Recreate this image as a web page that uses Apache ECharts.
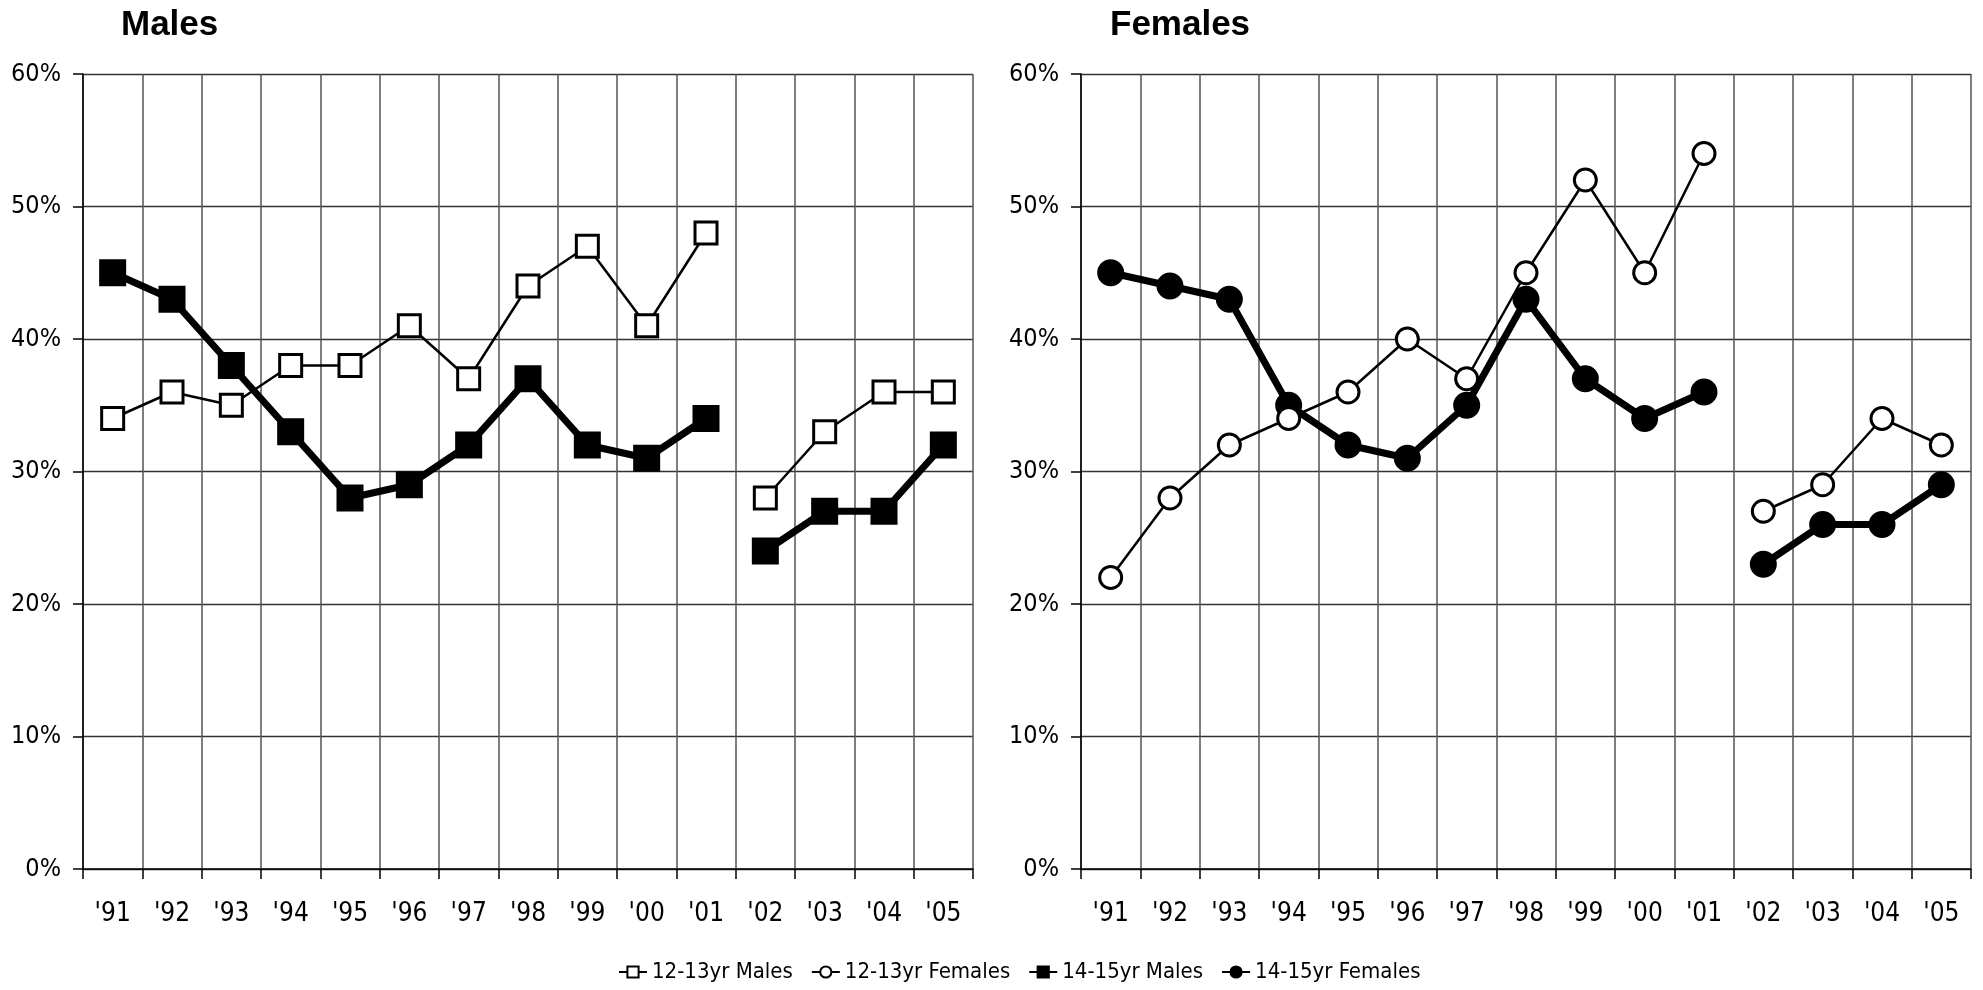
<!DOCTYPE html>
<html><head><meta charset="utf-8">
<script src="https://cdn.jsdelivr.net/npm/echarts@6/dist/echarts.min.js"></script>
<style>html,body{margin:0;padding:0;background:#fff}#c{width:1983px;height:990px}</style>
</head><body><div id="c"></div>
<script>
const years = ["'91","'92","'93","'94","'95","'96","'97","'98","'99","'00","'01","'02","'03","'04","'05"];
const males1213   = [34,36,35,38,38,41,37,44,47,41,48,28,33,36,36];
const males1415   = [45,43,38,33,28,29,32,37,32,31,34,24,27,27,32];
const females1213 = [22,28,32,34,36,40,37,45,52,45,54,27,29,34,32];
const females1415 = [45,44,43,35,32,31,35,43,37,34,36,23,26,26,29];
const breakIndex = 11; // survey break between '01 and '02
const yMin = 0, yMax = 60, yStep = 10;

const FONT = "'DejaVu Sans Condensed', 'Liberation Sans Narrow', sans-serif";

function seg(arr, a, b) { return arr.map((v, i) => (i >= a && i < b) ? v : '-'); }

function xAxis(gi) {
  return {
    type: 'category', gridIndex: gi, data: years, boundaryGap: true,
    axisLine: { show: true, lineStyle: { color: '#000', width: 1.5 } },
    axisTick: { show: true, length: 10, lineStyle: { color: '#000', width: 1.5 } },
    axisLabel: { color: '#000', fontSize: 26, fontFamily: FONT, margin: 32 },
    splitLine: { show: true, lineStyle: { color: '#555', width: 1.5 } }
  };
}
function yAxis(gi) {
  return {
    type: 'value', gridIndex: gi, min: yMin, max: yMax, interval: yStep,
    axisLine: { show: true, lineStyle: { color: '#000', width: 1.5 } },
    axisTick: { show: true, length: 10, lineStyle: { color: '#000', width: 1.5 } },
    axisLabel: { color: '#000', fontSize: 25, fontFamily: FONT, margin: 22, formatter: '{value}%' },
    splitLine: { show: true, lineStyle: { color: '#333', width: 1.3 } }
  };
}

function lineSeries(name, arr, gi, symbol, filled, thick) {
  const out = [];
  [[0, breakIndex], [breakIndex, arr.length]].forEach(([a, b]) => {
    out.push({
      name, type: 'line', xAxisIndex: gi, yAxisIndex: gi,
      data: seg(arr, a, b), connectNulls: false,
      symbol, symbolSize: thick ? 24 : 22,
      lineStyle: { color: '#000', width: thick ? 7 : 2.5 },
      itemStyle: { color: filled ? '#000' : '#fff', borderColor: '#000', borderWidth: 3 },
      emphasis: { disabled: true }, animation: false, z: thick ? 3 : 4
    });
  });
  return out;
}

const chart = echarts.init(document.getElementById('c'), null, { renderer: 'canvas' });
chart.setOption({
  backgroundColor: '#fff',
  animation: false,
  title: [
    { text: 'Males', left: 116, top: 3, textStyle: { fontSize: 35, fontWeight: 'bold', fontFamily: "'Liberation Sans', Arial, sans-serif", color: '#000' } },
    { text: 'Females', left: 1105, top: 3, textStyle: { fontSize: 35, fontWeight: 'bold', fontFamily: "'Liberation Sans', Arial, sans-serif", color: '#000' } }
  ],
  grid: [
    { left: 83, right: 1010, top: 74, bottom: 121, containLabel: false },
    { left: 1081, right: 12, top: 74, bottom: 121, containLabel: false }
  ],
  xAxis: [xAxis(0), xAxis(1)],
  yAxis: [yAxis(0), yAxis(1)],
  legend: {
    data: ['12-13yr Males', '12-13yr Females', '14-15yr Males', '14-15yr Females'],
    left: 613, bottom: 2, itemWidth: 28, itemHeight: 14, itemGap: 18,
    textStyle: { fontSize: 22, fontFamily: FONT, color: '#000' }
  },
  series: [
    ...lineSeries('12-13yr Males', males1213, 0, 'rect', false, false),
    ...lineSeries('14-15yr Males', males1415, 0, 'rect', true, true),
    ...lineSeries('12-13yr Females', females1213, 1, 'circle', false, false),
    ...lineSeries('14-15yr Females', females1415, 1, 'circle', true, true)
  ]
});
</script>
</body></html>
